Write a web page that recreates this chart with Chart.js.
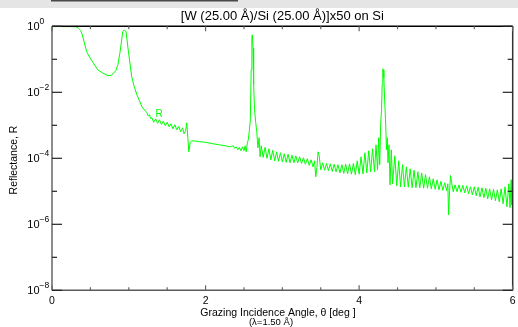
<!DOCTYPE html>
<html lang="en">
<head>
<meta charset="UTF-8" />
<title>W/Si multilayer reflectance</title>
<script src="https://cdn.jsdelivr.net/npm/chart.js"></script>
<style>
  html, body { margin: 0; padding: 0; background: #fff; }
  canvas { display: block; }
</style>
</head>
<body>
<canvas id="chart" width="518" height="327"></canvas>
<script>
  // angle in degrees, reflectance R (log axis)
  // total reflection edge + 1st Bragg order
  const thetaLow = [0.000, 0.195, 0.309, 0.342, 0.374, 0.395, 0.417, 0.452, 0.495, 0.538,
                    0.599, 0.664, 0.729, 0.777, 0.833, 0.859, 0.885, 0.921, 0.938, 0.964,
                    0.993, 1.038, 1.070, 1.107, 1.140, 1.172, 1.205, 1.237, 1.255, 1.270, 1.285];
  const rLow = [0.98, 0.98, 0.97, 0.88, 0.75, 0.55, 0.35, 0.17, 0.11, 0.078,
                0.047, 0.038, 0.032, 0.033, 0.046, 0.070, 0.16, 0.68, 0.77, 0.70,
                0.19, 0.030, 0.015, 0.0083, 0.0055, 0.0036, 0.0029, 0.0024, 0.0019, 0.0021, 0.0016];

  // fringes before 2nd order
  const thetaFr1 = [1.300, 1.325, 1.350, 1.375, 1.400, 1.425, 1.450, 1.475, 1.500, 1.525,
                    1.550, 1.575, 1.600, 1.625, 1.650, 1.675, 1.700, 1.720, 1.740];
  const rFr1 = [1.7e-3, 1.24e-3, 1.57e-3, 1.15e-3, 1.47e-3, 1.07e-3, 1.33e-3, 9.7e-4, 1.24e-3, 9.0e-4,
                1.11e-3, 7.8e-4, 1.04e-3, 7.3e-4, 9.3e-4, 6.4e-4, 8.4e-4, 5.5e-4, 6.8e-4];

  // 2nd order, plateau, 3rd order peak
  const thetaMid = [1.755, 1.770, 1.782, 1.800, 1.820, 1.870, 1.920, 1.970, 2.020, 2.100,
                    2.180, 2.260, 2.320, 2.360, 2.380, 2.400, 2.420, 2.440, 2.460, 2.480,
                    2.500, 2.515, 2.530, 2.545, 2.556, 2.570, 2.583, 2.594, 2.603, 2.610,
                    2.618, 2.626, 2.638, 2.652, 2.667, 2.682, 2.697, 2.710];
  const rMid = [1.19e-3, 3.9e-4, 1.57e-4, 3.0e-4, 3.4e-4, 3.3e-4, 3.2e-4, 3.1e-4, 3.0e-4, 2.75e-4,
                2.56e-4, 2.39e-4, 2.23e-4, 2.39e-4, 2.0e-4, 2.23e-4, 1.81e-4, 2.15e-4, 1.69e-4, 2.23e-4,
                1.69e-4, 2.39e-4, 1.57e-4, 3.0e-4, 3.6e-4, 6.8e-4, 1.47e-3, 4.8e-2, 0.48, 0.55,
                0.22, 0.017, 2.95e-3, 1.28e-3, 6.4e-4, 2.08e-4, 4.2e-4, 1.11e-4];

  // fringes between 3rd and 5th order (4th order near 3.45)
  const thetaFr2 = [2.725, 2.750, 2.775, 2.800, 2.825, 2.850, 2.875, 2.900, 2.925, 2.950,
                    2.975, 3.000, 3.025, 3.050, 3.075, 3.100, 3.125, 3.150, 3.175, 3.200,
                    3.225, 3.250, 3.275, 3.300, 3.325, 3.350, 3.375, 3.400, 3.420, 3.435,
                    3.450, 3.465, 3.480, 3.500, 3.525, 3.550, 3.575, 3.600, 3.625, 3.650,
                    3.675, 3.700, 3.725, 3.750, 3.775, 3.800, 3.825, 3.850, 3.875, 3.900,
                    3.925, 3.950, 3.975, 4.000, 4.025, 4.050, 4.075, 4.100, 4.125, 4.150,
                    4.175, 4.200, 4.220, 4.240];
  const rFr2 = [2.39e-4, 1.07e-4, 2.15e-4, 1.0e-4, 1.94e-4, 9.0e-5, 1.75e-4, 8.4e-5, 1.57e-4, 8.1e-5,
                1.47e-4, 7.8e-5, 1.37e-4, 7.5e-5, 1.33e-4, 7.3e-5, 1.24e-4, 7.3e-5, 1.19e-4, 7.3e-5,
                1.11e-4, 7.0e-5, 1.04e-4, 6.6e-5, 9.7e-5, 6.1e-5, 9.0e-5, 5.5e-5, 8.4e-5, 2.75e-5,
                5.2e-5, 1.57e-4, 1.19e-4, 4.5e-5, 7.3e-5, 4.35e-5, 7.0e-5, 4.2e-5, 6.8e-5, 4.0e-5,
                6.6e-5, 3.9e-5, 6.4e-5, 3.6e-5, 6.4e-5, 3.5e-5, 6.6e-5, 3.4e-5, 6.8e-5, 3.3e-5,
                7.0e-5, 3.2e-5, 8.4e-5, 3.3e-5, 1.11e-4, 3.4e-5, 1.47e-4, 3.6e-5, 1.69e-4, 3.9e-5,
                1.94e-4, 3.9e-5, 2.56e-4, 4.5e-5];

  // 5th order peak
  const thetaPk5 = [4.255, 4.268, 4.280, 4.292, 4.300, 4.308, 4.315, 4.322, 4.332, 4.344,
                    4.356, 4.366, 4.376, 4.389, 4.402, 4.419, 4.435];
  const rPk5 = [4.2e-4, 6.4e-5, 1.04e-3, 2.95e-3, 0.0169, 0.0515, 0.048, 0.0275, 5.9e-3, 1.47e-3,
                1.81e-4, 4.2e-4, 7.3e-5, 2.56e-4, 1.57e-5, 1.81e-4, 1.69e-5];

  // fringes after 5th order (6th order near 5.17)
  const thetaFr3 = [4.465, 4.490, 4.515, 4.540, 4.565, 4.590, 4.615, 4.640, 4.665, 4.690,
                    4.715, 4.740, 4.765, 4.790, 4.815, 4.840, 4.865, 4.890, 4.915, 4.940,
                    4.965, 4.990, 5.015, 5.040, 5.065, 5.090, 5.115, 5.140, 5.155, 5.165,
                    5.178, 5.190, 5.205, 5.225, 5.250, 5.275, 5.300, 5.325, 5.350, 5.375,
                    5.400, 5.425, 5.450, 5.475, 5.500, 5.525, 5.550, 5.575, 5.600, 5.625,
                    5.650, 5.675, 5.700, 5.725, 5.750, 5.775, 5.800, 5.825, 5.850, 5.875,
                    5.900, 5.925, 5.950, 5.965, 5.980, 5.990, 6.000];
  const rFr3 = [1.19e-4, 1.47e-5, 8.4e-5, 1.37e-5, 6.4e-5, 1.37e-5, 5.5e-5, 1.33e-5, 4.8e-5, 1.28e-5,
                4.35e-5, 1.28e-5, 3.9e-5, 1.28e-5, 3.6e-5, 1.24e-5, 3.2e-5, 1.24e-5, 2.75e-5, 1.19e-5,
                2.4e-5, 1.15e-5, 2.23e-5, 1.11e-5, 2.0e-5, 1.07e-5, 1.81e-5, 1.04e-5, 1.69e-5, 1.94e-6,
                1.04e-5, 3.0e-5, 1.81e-5, 9.7e-6, 1.57e-5, 9.7e-6, 1.57e-5, 9.3e-6, 1.52e-5, 9.0e-6,
                1.47e-5, 8.4e-6, 1.37e-5, 7.8e-6, 1.37e-5, 7.3e-6, 1.33e-5, 6.8e-6, 1.28e-5, 6.4e-6,
                1.24e-5, 5.9e-6, 1.19e-5, 5.5e-6, 1.15e-5, 5.2e-6, 1.11e-5, 4.8e-6, 1.19e-5, 4.2e-6,
                1.37e-5, 3.4e-6, 1.69e-5, 3.2e-6, 2.23e-5, 3.9e-6, 2.56e-5];

  const xLabels = [0, 2, 4, 6];
  const xMinorStep = 0.5;
  const yDecades = [0, -1, -2, -3, -4, -5, -6, -7, -8];
  const yLabelExp = ['0', '\u22122', '\u22124', '\u22126', '\u22128'];

  const thetaDeg = [].concat(thetaLow, thetaFr1, thetaMid, thetaFr2, thetaPk5, thetaFr3);
  const reflectance = [].concat(rLow, rFr1, rMid, rFr2, rPk5, rFr3);
  const points = thetaDeg.map((t, i) => ({ x: t, y: reflectance[i] }));

  const FONT = 'Helvetica, "Liberation Sans", Arial, sans-serif';

  function seg(ctx, x1, y1, x2, y2, color) {
    ctx.strokeStyle = color;
    ctx.beginPath();
    ctx.moveTo(x1, y1);
    ctx.lineTo(x2, y2);
    ctx.stroke();
  }

  const idlFrame = {
    id: 'idlFrame',
    beforeDraw(chart) {
      const ctx = chart.ctx;
      ctx.save();
      ctx.fillStyle = '#e5e5e5';
      ctx.fillRect(0, 0, chart.width, 8);
      ctx.fillStyle = '#4a4a4a';
      ctx.fillRect(51, 0, 187, 1.5);
      ctx.restore();
    },
    afterDatasetsDraw(chart) {
      const ctx = chart.ctx;
      const a = chart.chartArea;
      const xs = chart.scales.x, ys = chart.scales.y;
      ctx.save();
      ctx.lineWidth = 1.5;
      seg(ctx, a.left, a.top, a.right, a.top, '#000');
      seg(ctx, a.left, a.top, a.left, a.bottom, '#666');
      seg(ctx, a.left, a.bottom, a.right, a.bottom, '#5a5a5a');
      seg(ctx, a.right, a.top, a.right, a.bottom, '#333');

      // x ticks, pointing inwards
      ctx.lineWidth = 1.2;
      for (let v = 0; v <= 6.0001; v += xMinorStep) {
        const px = xs.getPixelForValue(v);
        const len = xLabels.includes(Math.round(v * 10) / 10) ? 5 : 3;
        seg(ctx, px, a.bottom, px, a.bottom - len, '#666');
        seg(ctx, px, a.top, px, a.top + len, '#666');
      }
      // y ticks
      yDecades.forEach(e => {
        const py = ys.getPixelForValue(Math.pow(10, e));
        const len = e % 2 === 0 ? 10 : 5;
        seg(ctx, a.left, py, a.left + len, py, '#222');
        seg(ctx, a.right, py, a.right - len, py, '#222');
      });

      ctx.fillStyle = '#000';
      // y tick labels 10^n
      yDecades.filter(e => e % 2 === 0).forEach((e, i) => {
        const py = ys.getPixelForValue(Math.pow(10, e));
        ctx.font = '11px ' + FONT;
        ctx.textAlign = 'right';
        ctx.textBaseline = 'alphabetic';
        ctx.fillText('10', 39.5, py + 4);
        ctx.font = '8.5px ' + FONT;
        ctx.textAlign = 'left';
        ctx.fillText(yLabelExp[i], 39.5, py - 2.5);
      });

      // x tick labels
      ctx.font = '10.5px ' + FONT;
      ctx.textAlign = 'center';
      xLabels.forEach(v => {
        ctx.fillText(String(v), xs.getPixelForValue(v), 304);
      });

      // title
      ctx.font = '13px ' + FONT;
      ctx.fillText('[W (25.00 \u00c5)/Si (25.00 \u00c5)]x50 on Si', (a.left + a.right) / 2, 20);

      // axis titles
      ctx.font = '10.5px ' + FONT;
      ctx.fillText('Grazing Incidence Angle, \u03b8 [deg ]', 278, 316);
      ctx.font = '9.5px ' + FONT;
      ctx.fillText('(\u03bb=1.50 \u00c5)', 271, 324.5);

      ctx.save();
      ctx.translate(16.5, 160);
      ctx.rotate(-Math.PI / 2);
      ctx.font = '10.5px ' + FONT;
      ctx.fillText('Reflectance, R', 0, 0);
      ctx.restore();

      // curve label
      ctx.fillStyle = '#00ff00';
      ctx.font = '10px ' + FONT;
      ctx.fillText('R', 159, 116.5);
      ctx.restore();
    }
  };

  new Chart(document.getElementById('chart'), {
    type: 'line',
    data: {
      datasets: [{
        label: 'R',
        data: points,
        borderColor: '#00ff00',
        borderWidth: 1,
        pointRadius: 0,
        tension: 0,
        fill: false
      }]
    },
    options: {
      responsive: false,
      animation: false,
      devicePixelRatio: 1,
      layout: { padding: { left: 52, right: 5.3, top: 26.3, bottom: 36.7 } },
      scales: {
        x: { type: 'linear', min: 0, max: 6, display: false },
        y: { type: 'logarithmic', min: 1e-8, max: 1, display: false }
      },
      plugins: {
        legend: { display: false },
        tooltip: { enabled: false },
        title: { display: false }
      }
    },
    plugins: [idlFrame]
  });
</script>
</body>
</html>
